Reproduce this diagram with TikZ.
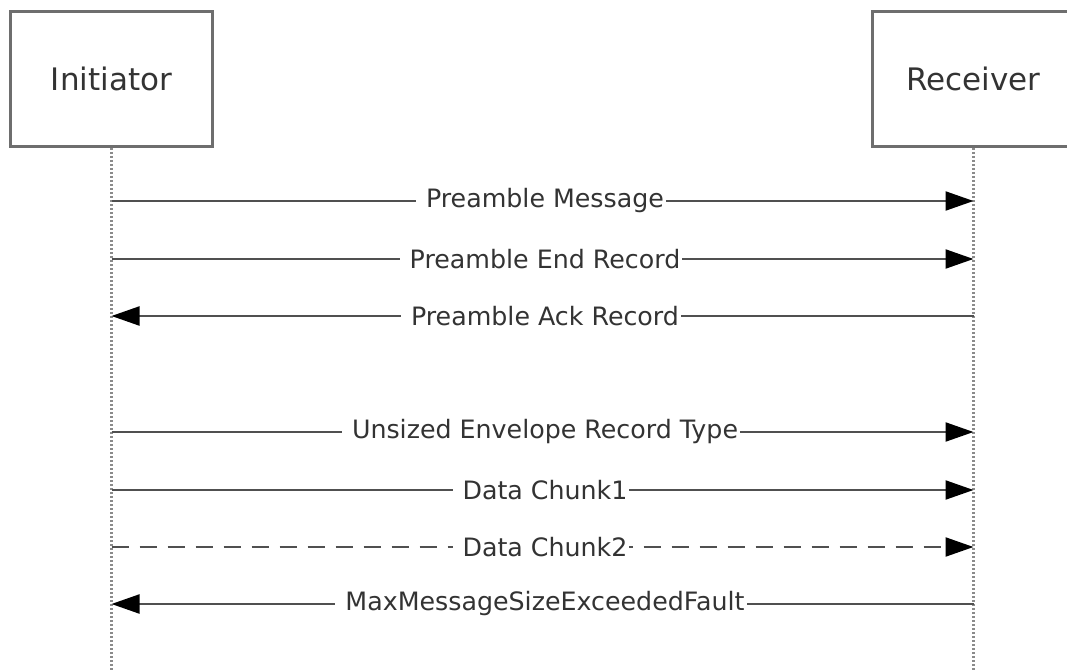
\documentclass[tikz,border=0pt]{standalone}
\usepackage{fontspec}
\setmainfont{DejaVu Sans}
\usetikzlibrary{arrows.meta}
\definecolor{boxgray}{HTML}{6E6E6E}
\definecolor{linegray}{HTML}{505050}
\definecolor{txt}{HTML}{333333}
\begin{document}
\begin{tikzpicture}[x=1pt,y=-1pt,
  actor/.style={draw=boxgray,line width=3pt,minimum width=202pt,minimum height=135pt,anchor=north west,inner sep=0pt,text=txt,font=\fontsize{31}{36}\selectfont},
  lifeline/.style={draw=boxgray!80,line width=3pt,dash pattern=on 2pt off 2pt},
  msg/.style={draw=linegray,line width=2.2pt,-{Triangle[length=28pt,width=19pt,fill=black,color=black]}},
  lbl/.style={fill=white,inner xsep=2pt,inner ysep=2pt,text=txt,font=\fontsize{25.3}{30}\selectfont}]
\useasboundingbox (0,0) rectangle (1067,671);
\node[actor] (ini) at (9,10) {Initiator};
\node[actor] (rec) at (871,10) {Receiver};
\coordinate (iend) at (ini.south |- 0,671);
\coordinate (rend) at (rec.south |- 0,671);
\draw[lifeline] (ini.south) -- (iend);
\draw[lifeline] (rec.south) -- (rend);
\foreach \n/\y in {a/201,b/259,c/316,d/432,e/490,f/547,g/604}{
  \coordinate (i\n) at (ini.south |- 0,\y);
  \coordinate (r\n) at (rec.south |- 0,\y);
  \coordinate (m\n) at (541,\y);
}
\draw[msg] (ia) -- (ra);
\node[lbl] (la) at (ma) {\hspace{8pt}Preamble Message};
\draw[msg] (ib) -- (rb);
\node[lbl] (lb) at (mb) {\hspace{8pt}Preamble End Record};
\draw[msg] (rc) -- (ic);
\node[lbl] (lc) at (mc) {\hspace{8pt}Preamble Ack Record};
\draw[msg] (id) -- (rd);
\node[lbl] (ld) at (md) {\hspace{8pt}Unsized Envelope Record Type};
\draw[msg] (ie) -- (re);
\node[lbl] (le) at (me) {\hspace{8pt}Data Chunk1};
\draw[msg,dash pattern=on 17pt off 11pt] (if) -- (rf);
\node[lbl] (lf) at (mf) {\hspace{8pt}Data Chunk2};
\draw[msg] (rg) -- (ig);
\node[lbl] (lg) at (mg) {\hspace{8pt}MaxMessageSizeExceededFault};
\end{tikzpicture}
\end{document}
